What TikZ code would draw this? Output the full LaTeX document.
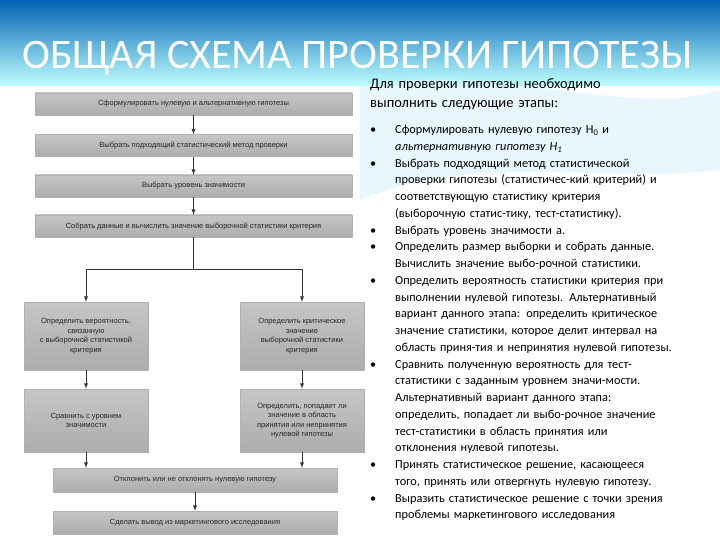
\documentclass[tikz,border=0pt]{standalone}
\usepackage{fontspec}
\setmainfont{Carlito}
\setsansfont{Liberation Sans}
\begin{document}
\begin{tikzpicture}[x=1pt,y=-1pt,
  fbox/.style={draw=gray!60,top color=gray!45,bottom color=gray!65,inner sep=1pt,font=\fontsize{7.5}{9.5}\selectfont\sffamily,text=black!85,align=center},
  arr/.style={-latex,line width=0.9pt,black!80},
  bul/.style={anchor=north west,inner sep=0pt,align=left,text width=330pt,font=\fontsize{12.3}{16.75}\selectfont}]
\useasboundingbox (0,0) rectangle (720,540);
\fill[white] (0,0) rectangle (720,540);
\shade[top color=blue!45!cyan!70!black,bottom color=cyan!25] (0,0) rectangle (720,86);
\fill[cyan!15,opacity=0.6] (360,86) .. controls (500,60) and (620,120) .. (720,90) -- (720,170) .. controls (600,185) and (480,150) .. (360,200) -- cycle;
\node[anchor=west,text=white,inner sep=0pt] (title) at (22,58) {\resizebox{670pt}{!}{\fontsize{30}{34}\selectfont ОБЩАЯ СХЕМА ПРОВЕРКИ ГИПОТЕЗЫ}};
% flowchart
\node[fbox,minimum width=317pt,minimum height=22pt] (b1) at (193.5,104) {Сформулировать нулевую и альтернативную гипотезы};
\node[fbox,minimum width=317pt,minimum height=22pt] (b2) at (193.5,145.5) {Выбрать подходящий статистический метод проверки};
\node[fbox,minimum width=317pt,minimum height=22pt] (b3) at (193.5,186) {Выбрать уровень значимости};
\node[fbox,minimum width=317pt,minimum height=22pt] (b4) at (193.5,226) {Собрать данные и вычислить значение выборочной статистики критерия};
\coordinate (j) at (193.5,269);
\coordinate (jl) at (86,269);
\coordinate (jr) at (302,269);
\node[fbox,minimum width=124pt,minimum height=68pt] (l1) at (86,336) {Определить вероятность,\\связанную\\с выборочной статистикой\\критерия};
\node[fbox,minimum width=124pt,minimum height=68pt] (r1) at (302,336) {Определить критическое\\значение\\выборочной статистики\\критерия};
\node[fbox,minimum width=124pt,minimum height=63pt] (l2) at (86,420.5) {Сравнить с уровнем\\значимости};
\node[fbox,minimum width=124pt,minimum height=63pt] (r2) at (302,420.5) {Определить, попадает ли\\значение в область\\принятия или непринятия\\нулевой гипотезы};
\node[fbox,minimum width=284pt,minimum height=24pt] (b5) at (195,480) {Отклонить или не отклонять нулевую гипотезу};
\node[fbox,minimum width=284pt,minimum height=23pt] (b6) at (195,522.5) {Сделать вывод из маркетингового исследования};
\draw[arr] (b1) -- (b2);
\draw[arr] (b2) -- (b3);
\draw[arr] (b3) -- (b4);
\draw[line width=0.9pt,black!80] (b4.south) -- (j);
\draw[line width=0.9pt,black!80] (jl) -- (jr);
\draw[arr] (jl) -- (l1.north);
\draw[arr] (jr) -- (r1.north);
\draw[arr] (l1) -- (l2);
\draw[arr] (r1) -- (r2);
\draw[arr] (l2.south) -- (l2.south |- b5.north);
\draw[arr] (r2.south) -- (r2.south |- b5.north);
\draw[arr] (b5) -- (b6);
% right text
\node[bul,text width=345pt,font=\fontsize{14.5}{19}\selectfont] (head) at (370,78) {Для проверки гипотезы необходимо\\выполнить следующие этапы:};
\node[bul] (list) at (370,125) {%
\makebox[25pt][l]{•}Сформулировать нулевую гипотезу H\textsubscript{0} и\\
\hspace*{25pt}\textit{альтернативную гипотезу H\textsubscript{1}}\\
\makebox[25pt][l]{•}Выбрать подходящий метод статистической\\
\hspace*{25pt}проверки гипотезы (статистичес-кий критерий) и\\
\hspace*{25pt}соответствующую статистику критерия\\
\hspace*{25pt}(выборочную статис-тику, тест-статистику).\\
\makebox[25pt][l]{•}Выбрать уровень значимости a.\\
\makebox[25pt][l]{•}Определить размер выборки и собрать данные.\\
\hspace*{25pt}Вычислить значение выбо-рочной статистики.\\
\makebox[25pt][l]{•}Определить вероятность статистики критерия при\\
\hspace*{25pt}выполнении нулевой гипотезы. Альтернативный\\
\hspace*{25pt}вариант данного этапа: определить критическое\\
\hspace*{25pt}значение статистики, которое делит интервал на\\
\hspace*{25pt}область приня-тия и непринятия нулевой гипотезы.\\
\makebox[25pt][l]{•}Сравнить полученную вероятность для тест-\\
\hspace*{25pt}статистики с заданным уровнем значи-мости.\\
\hspace*{25pt}Альтернативный вариант данного этапа:\\
\hspace*{25pt}определить, попадает ли выбо-рочное значение\\
\hspace*{25pt}тест-статистики в область принятия или\\
\hspace*{25pt}отклонения нулевой гипотезы.\\
\makebox[25pt][l]{•}Принять статистическое решение, касающееся\\
\hspace*{25pt}того, принять или отвергнуть нулевую гипотезу.\\
\makebox[25pt][l]{•}Выразить статистическое решение с точки зрения\\
\hspace*{25pt}проблемы маркетингового исследования};
\end{tikzpicture}
\end{document}
